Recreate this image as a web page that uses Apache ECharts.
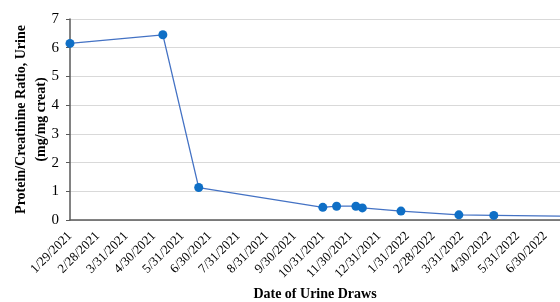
<!DOCTYPE html>
<html>
<head>
<meta charset="utf-8">
<script src="https://cdn.jsdelivr.net/npm/echarts@6/dist/echarts.min.js"></script>
<style>
html, body { margin: 0; padding: 0; background: #fff; }
#chart { width: 560px; height: 302px; }
</style>
</head>
<body>
<div id="chart"></div>
<script>
// dates of urine draws and the protein/creatinine ratio
var drawDates = ['2021-01-29', '2021-05-10', '2021-06-18', '2021-10-31', '2021-11-15',
                 '2021-12-06', '2021-12-13', '2022-01-24', '2022-03-28', '2022-05-05', '2022-08-15'];
var ratios = [6.15, 6.45, 1.13, 0.44, 0.48, 0.48, 0.42, 0.31, 0.18, 0.16, 0.12];

// x-axis tick labels
var tickDates = ['2021-01-29', '2021-02-28', '2021-03-31', '2021-04-30', '2021-05-31', '2021-06-30',
                 '2021-07-31', '2021-08-31', '2021-09-30', '2021-10-31', '2021-11-30', '2021-12-31',
                 '2022-01-31', '2022-02-28', '2022-03-31', '2022-04-30', '2022-05-31', '2022-06-30'];
var axisStart = '2021-01-29';
var axisEnd = '2022-07-16';

function ts(s) {
  var p = s.split('-');
  return new Date(+p[0], +p[1] - 1, +p[2]).getTime();
}
function fmt(v) {
  var d = new Date(v);
  return (d.getMonth() + 1) + '/' + d.getDate() + '/' + d.getFullYear();
}

var points = drawDates.map(function (d, i) { return [ts(d), ratios[i]]; });
var serif = 'Liberation Serif';

var chart = echarts.init(document.getElementById('chart'), null, { renderer: 'canvas' });
chart.setOption({
  animation: false,
  grid: { left: 70, right: 0, top: 19, bottom: 82, outerBoundsMode: 'none' },
  xAxis: {
    type: 'value',
    min: ts(axisStart),
    max: ts(axisEnd),
    name: 'Date of Urine Draws',
    nameLocation: 'middle',
    nameGap: 67,
    nameMoveOverlap: false,
    nameTextStyle: { fontFamily: serif, fontSize: 14, fontWeight: 'bold', color: '#000' },
    axisLine: { lineStyle: { color: '#595959', width: 1.5 } },
    axisTick: { show: false },
    splitLine: { show: false },
    axisLabel: {
      customValues: tickDates.map(ts),
      rotate: 45,
      margin: 14,
      fontFamily: serif,
      fontSize: 13,
      color: '#000',
      formatter: function (v) { return fmt(v); }
    }
  },
  yAxis: {
    type: 'value',
    min: 0,
    max: 7,
    interval: 1,
    name: 'Protein/Creatinine Ratio, Urine\n(mg/mg creat)',
    nameLocation: 'middle',
    nameRotate: 90,
    nameGap: 19,
    nameMoveOverlap: false,
    nameTextStyle: { fontFamily: serif, fontSize: 14, fontWeight: 'bold', color: '#000', lineHeight: 20, align: 'center' },
    axisLine: { show: true, lineStyle: { color: '#595959', width: 1.5 } },
    axisTick: { show: true, length: 4, lineStyle: { color: '#595959' } },
    splitLine: { lineStyle: { color: '#d9d9d9', width: 1 } },
    axisLabel: { fontFamily: serif, fontSize: 15, color: '#000', margin: 11 }
  },
  series: [{
    type: 'line',
    data: points,
    clip: true,
    symbol: 'circle',
    symbolSize: 9,
    lineStyle: { color: '#4472c4', width: 1.3 },
    itemStyle: { color: '#0f6fc6' }
  }]
});
</script>
</body>
</html>
